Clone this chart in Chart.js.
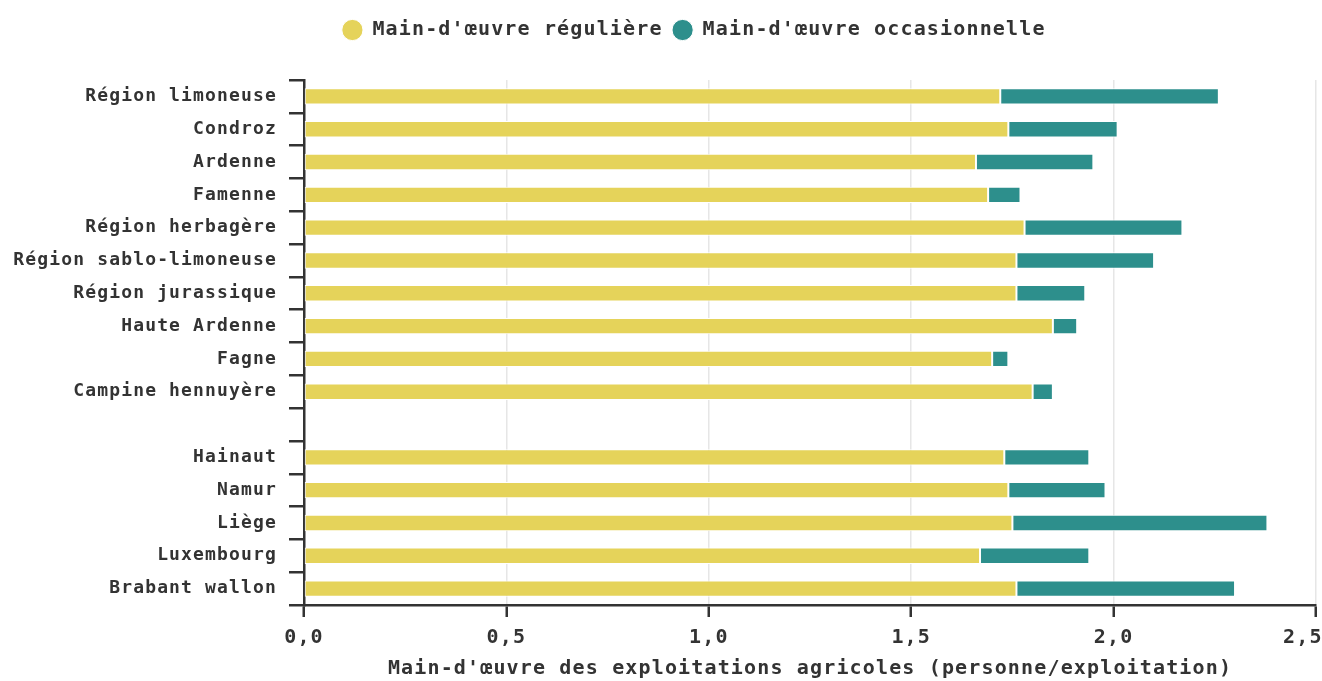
<!DOCTYPE html>
<html lang="fr">
<head>
<meta charset="UTF-8">
<title>Main-d'œuvre des exploitations agricoles</title>
<script src="https://cdn.jsdelivr.net/npm/chart.js"></script>
<style>
  body { margin: 0; background: #fff; }
  #chart { display: block; }
</style>
</head>
<body>
<canvas id="chart" width="1322" height="681"></canvas>
<script>
// regions (the empty label is the gap between agricultural regions and provinces)
const regions = [
  "Région limoneuse", "Condroz", "Ardenne", "Famenne", "Région herbagère",
  "Région sablo-limoneuse", "Région jurassique", "Haute Ardenne", "Fagne",
  "Campine hennuyère", "", "Hainaut", "Namur", "Liège", "Luxembourg", "Brabant wallon"
];
const reguliere = [1.72, 1.74, 1.66, 1.69, 1.78, 1.76, 1.76, 1.85, 1.70, 1.80, null, 1.73, 1.74, 1.75, 1.67, 1.76];
const occasionnelle = [0.54, 0.27, 0.29, 0.08, 0.39, 0.34, 0.17, 0.06, 0.04, 0.05, null, 0.21, 0.24, 0.63, 0.27, 0.54];
const xMin = 0, xMax = 2.5, xStep = 0.5;

const ink = '#333';
const font = "'DejaVu Sans Mono', monospace";

// canvas letter spacing, reset whenever the context may have been reset
const spacing = {
  id: 'spacing',
  beforeLayout(chart) { chart.ctx.letterSpacing = '1.15px'; },
  beforeDraw(chart) { chart.ctx.letterSpacing = '1.15px'; }
};

// fixed legend band height and horizontal nudge
const legendBox = {
  id: 'legendBox',
  afterInit(chart) {
    const lg = chart.legend;
    const fit = lg.fit.bind(lg);
    lg.fit = function () { fit(); this.height = 70; };
  },
  afterLayout(chart) {
    chart.legend.left += 36;
    chart.legend.right += 36;
  }
};

new Chart(document.getElementById('chart'), {
  type: 'bar',
  data: {
    labels: regions,
    datasets: [
      { label: "Main-d'œuvre régulière", data: reguliere, backgroundColor: '#e5d35a' },
      { label: "Main-d'œuvre occasionnelle", data: occasionnelle, backgroundColor: '#2d8f8c' }
    ]
  },
  options: {
    indexAxis: 'y',
    responsive: false,
    animation: false,
    layout: { padding: { top: 10, right: 6, left: 0, bottom: 0 } },
    datasets: {
      bar: {
        categoryPercentage: 1,
        barPercentage: 0.5,
        borderColor: '#fff',
        borderWidth: 1,
        borderSkipped: false
      }
    },
    scales: {
      x: {
        stacked: true,
        min: xMin,
        max: xMax,
        grid: { color: '#e6e6e6', lineWidth: 1.5, tickColor: ink, tickWidth: 2.5, tickLength: 12 },
        border: { color: ink, width: 2.5 },
        ticks: {
          stepSize: xStep,
          color: ink,
          maxRotation: 0,
          padding: 9,
          font: { family: font, size: 20, weight: 'bold' },
          callback: v => v.toFixed(1).replace('.', ',') + (v === xMax ? '  ' : '')
        },
        title: {
          display: true,
          text: "Main-d'œuvre des exploitations agricoles (personne/exploitation)",
          color: ink,
          font: { family: font, size: 20, weight: 'bold' },
          padding: { top: 7, bottom: 0 }
        },
        afterFit(s) { s.height = 76; s.paddingLeft = 0; s.paddingRight = 0; }
      },
      y: {
        stacked: true,
        grid: { offset: true, drawOnChartArea: false, color: ink, lineWidth: 2.5, tickLength: 15 },
        border: { color: ink, width: 2.5 },
        ticks: {
          color: ink,
          autoSkip: false,
          padding: 12,
          font: { family: font, size: 18, weight: 'bold' }
        },
        afterFit(s) { s.width = 304; }
      }
    },
    plugins: {
      legend: {
        position: 'top',
        labels: {
          usePointStyle: true,
          pointStyle: 'circle',
          boxWidth: 20,
          boxHeight: 15,
          padding: 10,
          color: ink,
          font: { family: font, size: 20, weight: 'bold' }
        }
      },
      tooltip: { enabled: false }
    }
  },
  plugins: [spacing, legendBox]
});
</script>
</body>
</html>
